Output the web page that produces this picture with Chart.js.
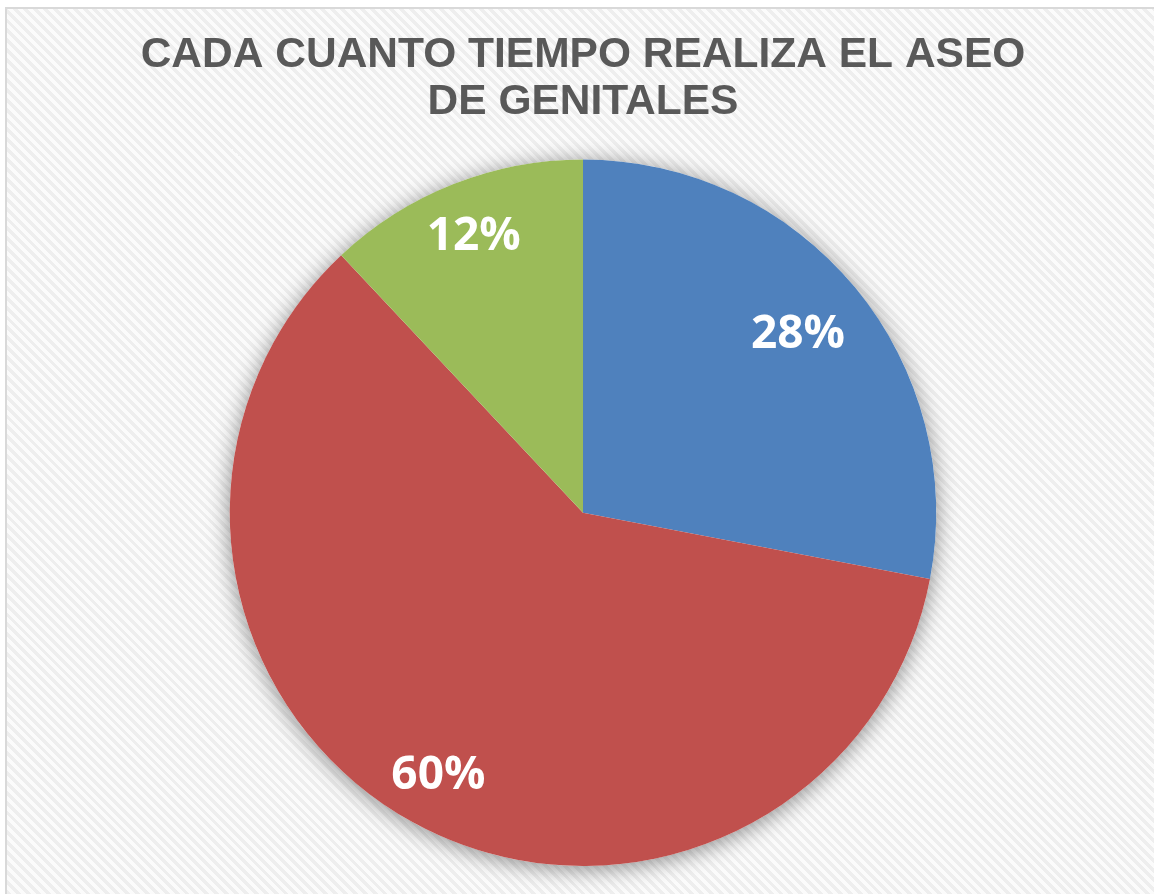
<!doctype html>
<html lang="es">

<head>
  <meta charset="utf-8">
  <title>Aseo de genitales</title>
  <style>
    html, body { margin: 0; padding: 0; background: #ffffff; }
    #marco {
      position: absolute; left: 5px; top: 7px; width: 1160px; height: 900px;
      border-left: 2px solid #d9d9d9; border-top: 2px solid #d9d9d9;
      background: repeating-linear-gradient(45deg, #fbfbfb 0px, #fbfbfb 3.5px, #eeeeee 3.5px, #eeeeee 7px);
    }
    #grafico { position: absolute; left: 0; top: 0; }
  </style>
</head>

<body>
  <div id="marco"></div>
  <canvas id="grafico" width="1154" height="894"></canvas>

  <script src="https://cdn.jsdelivr.net/npm/chart.js"></script>
  <script>
    // Datos del grafico
    const categorias = ["Opción 1", "Opción 2", "Opción 3"];
    const porcentajes = [28, 60, 12];
    const colores = ["#4F81BD", "#C0504D", "#9BBB59"];
    const titulo = ["CADA CUANTO TIEMPO REALIZA EL ASEO", "DE GENITALES"];

    // sombra detras del circulo
    const sombra = {
      id: 'sombra',
      beforeDatasetsDraw(chart) {
        const arco = chart.getDatasetMeta(0).data[0];
        if (!arco) return;
        const ctx = chart.ctx;
        ctx.save();
        ctx.shadowColor = 'rgba(0,0,0,0.45)';
        ctx.shadowBlur = 22;
        ctx.shadowOffsetX = 0;
        ctx.shadowOffsetY = 3;
        ctx.fillStyle = '#ffffff';
        ctx.beginPath();
        ctx.arc(arco.x, arco.y, arco.outerRadius, 0, Math.PI * 2);
        ctx.fill();
        ctx.restore();
      }
    };

    // etiquetas de porcentaje dentro de cada sector
    const distancias = [0.79, 0.85, 0.84]; // como en excel (ajuste optimo)
    const etiquetas = {
      id: 'etiquetas',
      afterDatasetsDraw(chart) {
        const ctx = chart.ctx;
        const meta = chart.getDatasetMeta(0);
        ctx.save();
        ctx.fillStyle = '#ffffff';
        ctx.font = 'bold 46px "Open Sans"';
        ctx.textAlign = 'center';
        ctx.textBaseline = 'middle';
        meta.data.forEach((arco, i) => {
          const medio = (arco.startAngle + arco.endAngle) / 2;
          const r = arco.outerRadius * distancias[i];
          ctx.fillText(porcentajes[i] + '%', arco.x + Math.cos(medio) * r, arco.y + Math.sin(medio) * r);
        });
        ctx.restore();
      }
    };

    new Chart(document.getElementById('grafico'), {
      type: 'pie',
      data: {
        labels: categorias,
        datasets: [{
          data: porcentajes,
          backgroundColor: colores,
          borderWidth: 0
        }]
      },
      options: {
        responsive: false,
        animation: false,
        layout: { padding: { left: 12, right: 0, top: 0, bottom: 28 } },
        plugins: {
          legend: { display: false },
          tooltip: { enabled: false },
          title: {
            display: true,
            text: titulo,
            color: '#595959',
            font: { family: '"Liberation Sans", Arial', size: 42.5, weight: 'bold', lineHeight: 1.1 },
            padding: { top: 32, bottom: 34 }
          }
        }
      },
      plugins: [sombra, etiquetas]
    });
  </script>
</body>

</html>
